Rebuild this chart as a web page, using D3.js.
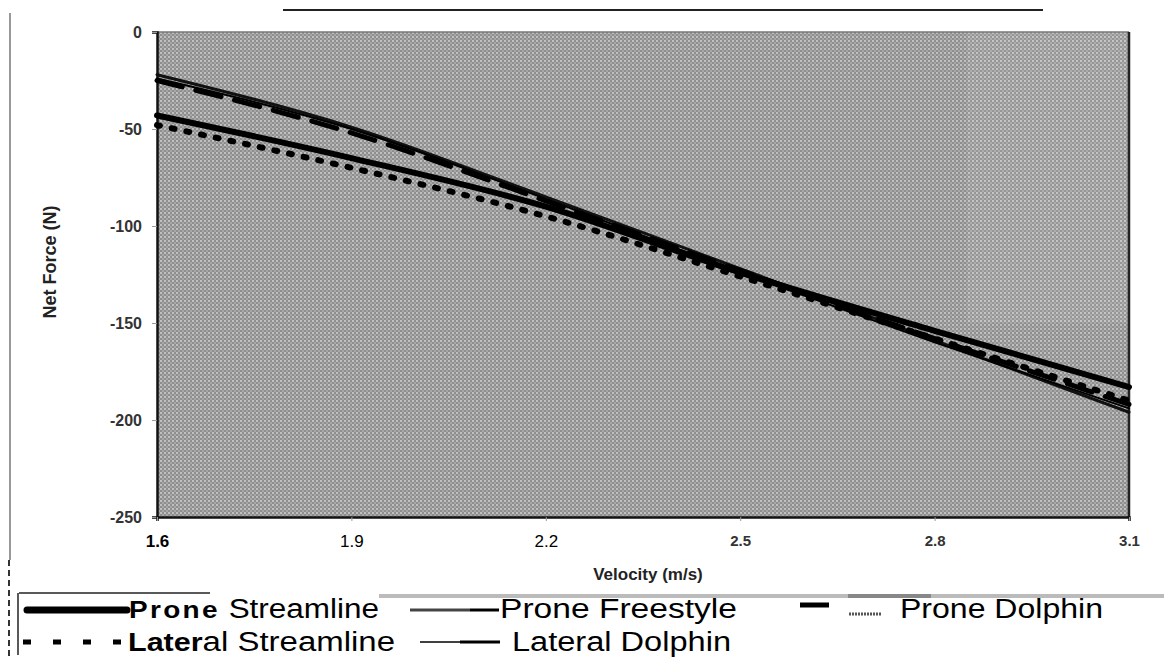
<!DOCTYPE html>
<html>
<head>
<meta charset="utf-8">
<script src="https://cdn.jsdelivr.net/npm/d3@7"></script>
<style>
  body { margin: 0; background: #fff; }
  svg { display: block; font-family: "Liberation Sans", Arial, sans-serif; }
</style>
</head>
<body>
<svg id="chart" width="1164" height="658"></svg>
<script>
// velocities (m/s) and net force readings (N)
var velocity = [1.6, 1.9, 2.2, 2.5, 2.8, 3.1];
var proneStreamline = [-43, -65, -90, -124, -154, -183];
var lateralStreamline = [-48, -70, -95, -126, -158, -190];
var proneFreestyle = [-22, -49, -85, -122, -159, -196];
var proneDolphin = [-25, -52, -87, -123, -158, -192];
var lateralDolphin = [-24, -50, -86, -124, -160, -194];
var yTicks = [0, -50, -100, -150, -200, -250];

var plot = { left: 157, right: 1129, top: 32, bottom: 517 };

var svg = d3.select("#chart");

var x = d3.scaleLinear().domain([1.6, 3.1]).range([plot.left, plot.right]);
var y = d3.scaleLinear().domain([0, -250]).range([plot.top, plot.bottom]);

// halftone-ish background
var defs = svg.append("defs");
var pat = defs.append("pattern")
    .attr("id", "dots")
    .attr("width", 4).attr("height", 4)
    .attr("patternUnits", "userSpaceOnUse");
pat.append("rect").attr("width", 4).attr("height", 4).attr("fill", "#8e8e8e");
pat.append("circle").attr("cx", 1).attr("cy", 1).attr("r", 1.1).attr("fill", "#c6c6c6");
pat.append("circle").attr("cx", 3).attr("cy", 3).attr("r", 0.9).attr("fill", "#b4b4b4");

svg.append("rect")
    .attr("x", plot.left).attr("y", plot.top)
    .attr("width", plot.right - plot.left).attr("height", plot.bottom - plot.top)
    .attr("fill", "url(#dots)");
// lighter patch at upper right
svg.append("rect")
    .attr("x", x(2.85)).attr("y", plot.top)
    .attr("width", plot.right - x(2.85)).attr("height", y(-150) - plot.top)
    .attr("fill", "#fff").attr("opacity", 0.08);

// frame
svg.append("line").attr("x1", plot.left).attr("x2", plot.right)
    .attr("y1", plot.top).attr("y2", plot.top)
    .attr("stroke", "#777").attr("stroke-width", 1.5);
svg.append("line").attr("x1", plot.right).attr("x2", plot.right)
    .attr("y1", plot.top).attr("y2", plot.bottom)
    .attr("stroke", "#222").attr("stroke-width", 2.5);

// axes
var yAxis = svg.append("g")
    .attr("transform", "translate(" + plot.left + ",0)")
    .call(d3.axisLeft(y).tickValues(yTicks).tickSize(5).tickPadding(10)
        .tickFormat(function (d) { return String(d); }));
yAxis.select(".domain").attr("stroke", "#111").attr("stroke-width", 2.5);
yAxis.selectAll(".tick line").attr("stroke", "#999");
yAxis.selectAll(".tick text")
    .attr("font-size", 16).attr("font-weight", "bold").attr("fill", "#333")
    .attr("font-family", "Liberation Sans, Arial, sans-serif");

var xAxis = svg.append("g")
    .attr("transform", "translate(0," + plot.bottom + ")")
    .call(d3.axisBottom(x).tickValues(velocity).tickFormat(d3.format(".1f")).tickSize(4).tickPadding(14));
xAxis.select(".domain").attr("stroke", "#111").attr("stroke-width", 2.5);
xAxis.selectAll(".tick line").attr("stroke", "#999");
xAxis.selectAll(".tick text")
    .attr("font-family", "Liberation Sans, Arial, sans-serif")
    .attr("font-size", function (d, i) { return i < 3 ? 17 : 15; })
    .attr("font-weight", function (d, i) { return (i == 0 || i > 2) ? "bold" : "normal"; })
    .attr("fill", function (d, i) { return i > 2 ? "#333" : "#000"; });

svg.append("text")
    .attr("x", 648).attr("y", 580)
    .attr("text-anchor", "middle")
    .attr("font-size", 17).attr("font-weight", "bold").attr("fill", "#222")
    .text("Velocity (m/s)");

svg.append("text")
    .attr("transform", "translate(56,262) rotate(-90)")
    .attr("text-anchor", "middle")
    .attr("font-size", 18).attr("font-weight", "bold").attr("fill", "#222")
    .text("Net Force (N)");

// series
var series = [
    { name: "Prone Freestyle", values: proneFreestyle, width: 3, dash: null, color: "#111" },
    { name: "Lateral Dolphin", values: lateralDolphin, width: 2, dash: null, color: "#000" },
    { name: "Prone Dolphin", values: proneDolphin, width: 5, dash: "26,14", color: "#000" },
    { name: "Lateral Streamline", values: lateralStreamline, width: 6, dash: "3,12", color: "#000" },
    { name: "Prone Streamline", values: proneStreamline, width: 6, dash: null, color: "#000" }
];

var line = d3.line()
    .x(function (d, i) { return x(velocity[i]); })
    .y(function (d) { return y(d); })
    .curve(d3.curveMonotoneX);

svg.append("g").selectAll("path")
    .data(series)
    .enter()
    .append("path")
    .attr("fill", "none")
    .attr("stroke", function (d) { return d.color; })
    .attr("stroke-width", function (d) { return d.width; })
    .attr("stroke-dasharray", function (d) { return d.dash; })
    .attr("stroke-linecap", "round")
    .attr("d", function (d) { return line(d.values); });

// scan border lines
svg.append("line").attr("x1", 283).attr("x2", 1043).attr("y1", 10).attr("y2", 10)
    .attr("stroke", "#222").attr("stroke-width", 2);
svg.append("line").attr("x1", 10).attr("x2", 10).attr("y1", 13).attr("y2", 560)
    .attr("stroke", "#999").attr("stroke-width", 2);
svg.append("line").attr("x1", 9).attr("x2", 9).attr("y1", 560).attr("y2", 658)
    .attr("stroke", "#333").attr("stroke-width", 2).attr("stroke-dasharray", "6,4");

// legend
var legend = svg.append("g");
legend.append("line").attr("x1", 19).attr("x2", 210).attr("y1", 593).attr("y2", 593)
    .attr("stroke", "#222").attr("stroke-width", 1.5);
legend.append("line").attr("x1", 18).attr("x2", 18).attr("y1", 593).attr("y2", 655)
    .attr("stroke", "#222").attr("stroke-width", 1.5);
legend.append("line").attr("x1", 379).attr("x2", 1164).attr("y1", 596).attr("y2", 596)
    .attr("stroke", "#bbb").attr("stroke-width", 4);
legend.append("line").attr("x1", 848).attr("x2", 931).attr("y1", 596).attr("y2", 596)
    .attr("stroke", "#888").attr("stroke-width", 4);

var r1 = 618, r2 = 651, fs = 27;

function legendText(xp, yp, len) {
    return legend.append("text")
        .attr("x", xp).attr("y", yp)
        .attr("font-size", fs)
        .attr("textLength", len)
        .attr("lengthAdjust", "spacingAndGlyphs");
}

// Prone Streamline
legend.append("line").attr("x1", 27).attr("x2", 127).attr("y1", 610).attr("y2", 610)
    .attr("stroke", "#000").attr("stroke-width", 7).attr("stroke-linecap", "round");
var t1 = legendText(129, r1, 250);
t1.append("tspan").attr("font-weight", "bold").attr("letter-spacing", 2).attr("font-size", 24).text("Prone");
t1.append("tspan").text(" Streamline");

// Prone Freestyle
legend.append("line").attr("x1", 410).attr("x2", 470).attr("y1", 610).attr("y2", 610)
    .attr("stroke", "#444").attr("stroke-width", 3);
legend.append("line").attr("x1", 470).attr("x2", 499).attr("y1", 610).attr("y2", 610)
    .attr("stroke", "#000").attr("stroke-width", 3);
legendText(500, r1, 237).text("Prone Freestyle");

// Prone Dolphin
legend.append("line").attr("x1", 800).attr("x2", 829).attr("y1", 605).attr("y2", 605)
    .attr("stroke", "#000").attr("stroke-width", 5);
legend.append("line").attr("x1", 849).attr("x2", 881).attr("y1", 614).attr("y2", 614)
    .attr("stroke", "#555").attr("stroke-width", 3).attr("stroke-dasharray", "2,1");
legendText(900, r1, 203).text("Prone Dolphin");

// Lateral Streamline
legend.append("line").attr("x1", 23).attr("x2", 127).attr("y1", 642).attr("y2", 642)
    .attr("stroke", "#000").attr("stroke-width", 5).attr("stroke-dasharray", "8,22");
var t2 = legendText(128, r2, 267);
t2.append("tspan").attr("font-weight", "bold").attr("font-size", 25).text("Later");
t2.append("tspan").text("al Streamline");

// Lateral Dolphin
legend.append("line").attr("x1", 420).attr("x2", 460).attr("y1", 642).attr("y2", 642)
    .attr("stroke", "#000").attr("stroke-width", 1.5);
legend.append("line").attr("x1", 460).attr("x2", 500).attr("y1", 642).attr("y2", 642)
    .attr("stroke", "#000").attr("stroke-width", 3);
legendText(512, r2, 219).text("Lateral Dolphin");
</script>
</body>
</html>
